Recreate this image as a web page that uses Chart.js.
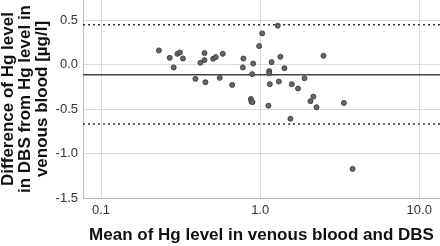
<!DOCTYPE html>
<html>
<head>
<meta charset="utf-8">
<script src="https://cdn.jsdelivr.net/npm/chart.js@4"></script>
<style>
html, body { margin: 0; padding: 0; background: #fff; }
#wrap { width: 440px; height: 246px; }
</style>
</head>
<body>
<div id="wrap"><canvas id="myChart"></canvas></div>
<script>
// Mean of the two measurements (x) and their difference (y)
const meanValues = [0.231, 0.270, 0.286, 0.302, 0.313, 0.327, 0.392, 0.421, 0.447, 0.447,
    0.453, 0.506, 0.526, 0.557, 0.582, 0.667, 0.778, 0.785, 0.875, 0.881,
    0.895, 0.891, 0.904, 0.986, 1.03, 1.127, 1.14, 1.14, 1.15, 1.18,
    1.29, 1.31, 1.34, 1.42, 1.55, 1.58, 1.73, 1.90, 2.07, 2.16,
    2.26, 2.50, 3.36, 3.81];
const diffValues = [0.162, 0.079, -0.030, 0.124, 0.139, 0.071, -0.158, 0.023, 0.132, 0.053,
    -0.196, 0.068, 0.087, -0.147, 0.124, -0.226, -0.030, 0.071, -0.385, -0.415,
    -0.420, -0.105, 0.015, 0.211, 0.354, -0.460, -0.071, -0.095, -0.218, 0.030,
    0.441, -0.188, 0.090, -0.038, -0.607, -0.218, -0.267, -0.151, -0.410, -0.358,
    -0.478, 0.102, -0.429, -1.172];

const meanDiff = -0.113;
const upperLimit = 0.452;
const lowerLimit = -0.667;

const xTicks = [0.1, 1, 10];
const yTicks = [-1.5, -1.0, -0.5, 0.0, 0.5];
const xRange = [0.077, 13.5];
const yRange = [-1.5, 0.73];

const points = meanValues.map((m, i) => ({ x: m, y: diffValues[i] }));
const hLine = v => [{ x: xRange[0], y: v }, { x: xRange[1], y: v }];

const ctx = document.getElementById('myChart');

new Chart(ctx, {
    type: 'scatter',
    data: {
        datasets: [{
            data: points,
            backgroundColor: '#666',
            borderColor: '#444',
            borderWidth: 1,
            pointRadius: 2.5
        }, {
            type: 'line',
            data: hLine(meanDiff),
            borderColor: '#444',
            borderWidth: 1.5,
            pointRadius: 0
        }, {
            type: 'line',
            data: hLine(upperLimit),
            borderColor: '#333',
            borderWidth: 1.5,
            borderDash: [2, 3],
            pointRadius: 0
        }, {
            type: 'line',
            data: hLine(lowerLimit),
            borderColor: '#333',
            borderWidth: 1.5,
            borderDash: [2, 3],
            pointRadius: 0
        }]
    },
    options: {
        responsive: true,
        maintainAspectRatio: false,
        animation: false,
        layout: { padding: 0, autoPadding: false },
        plugins: {
            legend: { display: false },
            tooltip: { enabled: false }
        },
        scales: {
            x: {
                type: 'logarithmic',
                min: xRange[0],
                max: xRange[1],
                afterBuildTicks: s => { s.ticks = xTicks.map(v => ({ value: v })); },
                afterFit: s => {
                    s.height = 48;
                    s.paddingLeft = 0;
                    s.paddingRight = 0;
                },
                ticks: {
                    padding: 5,
                    color: '#333',
                    font: { family: 'Liberation Sans', size: 13 },
                    callback: v => v.toFixed(1)
                },
                grid: { color: '#dcdcdc', drawTicks: false },
                border: { color: '#bbb' },
                title: {
                    display: true,
                    text: 'Mean of Hg level in venous blood and DBS',
                    color: '#111',
                    font: { family: 'Liberation Sans', size: 17, weight: 'bold' },
                    padding: 0
                }
            },
            y: {
                min: yRange[0],
                max: yRange[1],
                afterBuildTicks: s => { s.ticks = yTicks.map(v => ({ value: v })); },
                afterFit: s => {
                    s.width = 83;
                    s.paddingTop = 0;
                    s.paddingBottom = 0;
                },
                ticks: {
                    padding: 5,
                    color: '#333',
                    font: { family: 'Liberation Sans', size: 13 },
                    callback: v => v.toFixed(1)
                },
                grid: { color: '#dcdcdc', drawTicks: false },
                border: { color: '#bbb' },
                title: {
                    display: true,
                    text: ['Difference of Hg level', 'in DBS from Hg level in', 'venous blood [µg/l]'],
                    color: '#111',
                    font: { family: 'Liberation Sans', size: 17, weight: 'bold', lineHeight: 1.0 },
                    padding: 0
                }
            }
        }
    }
});
</script>
</body>
</html>
